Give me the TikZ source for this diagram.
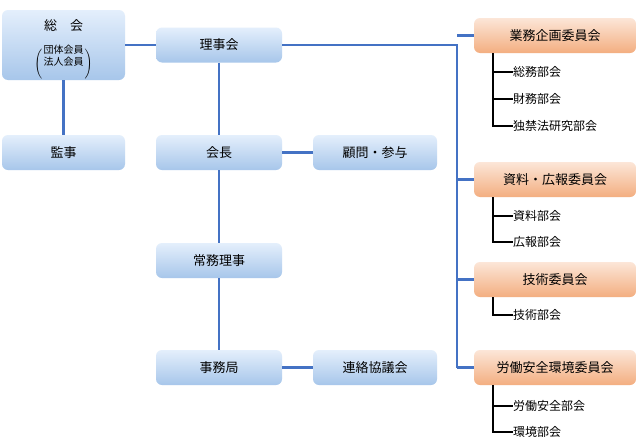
\documentclass[tikz,border=0pt]{standalone}
\usepackage{fontspec}
\setmainfont{Noto Sans CJK JP}
\definecolor{bt}{HTML}{E4EFFC}
\definecolor{bb}{HTML}{A7C6EA}
\definecolor{ot}{HTML}{FCE6D8}
\definecolor{ob}{HTML}{F3AE80}
\definecolor{ln}{HTML}{4472C4}
\tikzset{
 bbox/.style={rounded corners=6pt,top color=bt,bottom color=bb,draw=none,inner sep=0pt,font=\fontsize{13}{15}\selectfont},
 obox/.style={rounded corners=6pt,top color=ot,bottom color=ob,draw=none,inner sep=0pt,font=\fontsize{13}{15}\selectfont},
 item/.style={anchor=west,inner sep=0pt,font=\fontsize{12}{14}\selectfont},
 conn/.style={draw=ln,line width=2.5pt},
 sub/.style={draw=black,line width=2.5pt}
}
\begin{document}
\begin{tikzpicture}[x=1pt,y=-1pt]
\useasboundingbox (0,0) rectangle (637,442);
\fill[white] (0,0) rectangle (637,442);
% blue boxes
\node[bbox,minimum width=123pt,minimum height=70pt] (sokai) at (63.5,45) {};
\node[font=\fontsize{13}{15}\selectfont] (sokaiT) at (63.5,26) {総\hspace{1em}会};
\node[font=\fontsize{10}{11}\selectfont,align=center] (sokaiS) at (63.5,62) {$\left(\vbox to 19pt{}\right.$\raisebox{1pt}{\shortstack{団体会員\\法人会員}}$\left.\vbox to 19pt{}\right)$};
\node[bbox,minimum width=126pt,minimum height=35pt] (riji) at (219,45) {理事会};
\node[bbox,minimum width=123pt,minimum height=35pt] (kanji) at (63.5,152.5) {監事};
\node[bbox,minimum width=126pt,minimum height=35pt] (kaicho) at (219,152.5) {会長};
\node[bbox,minimum width=124pt,minimum height=35pt] (komon) at (375,152.5) {顧問・参与};
\node[bbox,minimum width=126pt,minimum height=35pt] (jomu) at (219,260.5) {常務理事};
\node[bbox,minimum width=126pt,minimum height=35pt] (jimu) at (219,367.5) {事務局};
\node[bbox,minimum width=124pt,minimum height=35pt] (renraku) at (375,367.5) {連絡協議会};
% orange boxes
\node[obox,minimum width=162pt,minimum height=35pt] (gyomu) at (555,35.5) {業務企画委員会};
\node[obox,minimum width=162pt,minimum height=35pt] (shiryo) at (555,179.5) {資料・広報委員会};
\node[obox,minimum width=162pt,minimum height=35pt] (gijutsu) at (555,279.5) {技術委員会};
\node[obox,minimum width=162pt,minimum height=35pt] (rodo) at (555,367.5) {労働安全環境委員会};
% blue connectors
\coordinate (tr0) at (457,45);
\coordinate (tr1) at (457,367.5);
\draw[conn] (sokai.east|-riji.west) -- (riji.west);
\draw[conn] (sokai) ++(0,35) -- (kanji.north);
\draw[conn] (riji.south) -- (kaicho.north);
\draw[conn] (kaicho.south) -- (jomu.north);
\draw[conn] (jomu.south) -- (jimu.north);
\draw[conn] (kaicho.east) -- (komon.west);
\draw[conn] (jimu.east) -- (renraku.west);
\draw[conn] (riji.east) -- (tr0) -- (tr1);
\draw[conn] (457,35.5) -- (gyomu.west);
\draw[conn] (457,179.5) -- (shiryo.west);
\draw[conn] (457,279.5) -- (gijutsu.west);
\draw[conn] (tr1) -- (rodo.west);
% sub items
\node[item] (s1) at (513,72) {総務部会};
\node[item] (s2) at (513,99) {財務部会};
\node[item] (s3) at (513,126) {独禁法研究部会};
\node[item] (s4) at (513,216) {資料部会};
\node[item] (s5) at (513,242) {広報部会};
\node[item] (s6) at (513,315) {技術部会};
\node[item] (s7) at (513,406) {労働安全部会};
\node[item] (s8) at (513,432) {環境部会};
\draw[sub] (493,53) |- (s3.west);
\draw[sub] (493,72) -- (s1.west);
\draw[sub] (493,99) -- (s2.west);
\draw[sub] (493,197) |- (s5.west);
\draw[sub] (493,216) -- (s4.west);
\draw[sub] (493,297) |- (s6.west);
\draw[sub] (493,385) |- (s8.west);
\draw[sub] (493,406) -- (s7.west);
\end{tikzpicture}
\end{document}
